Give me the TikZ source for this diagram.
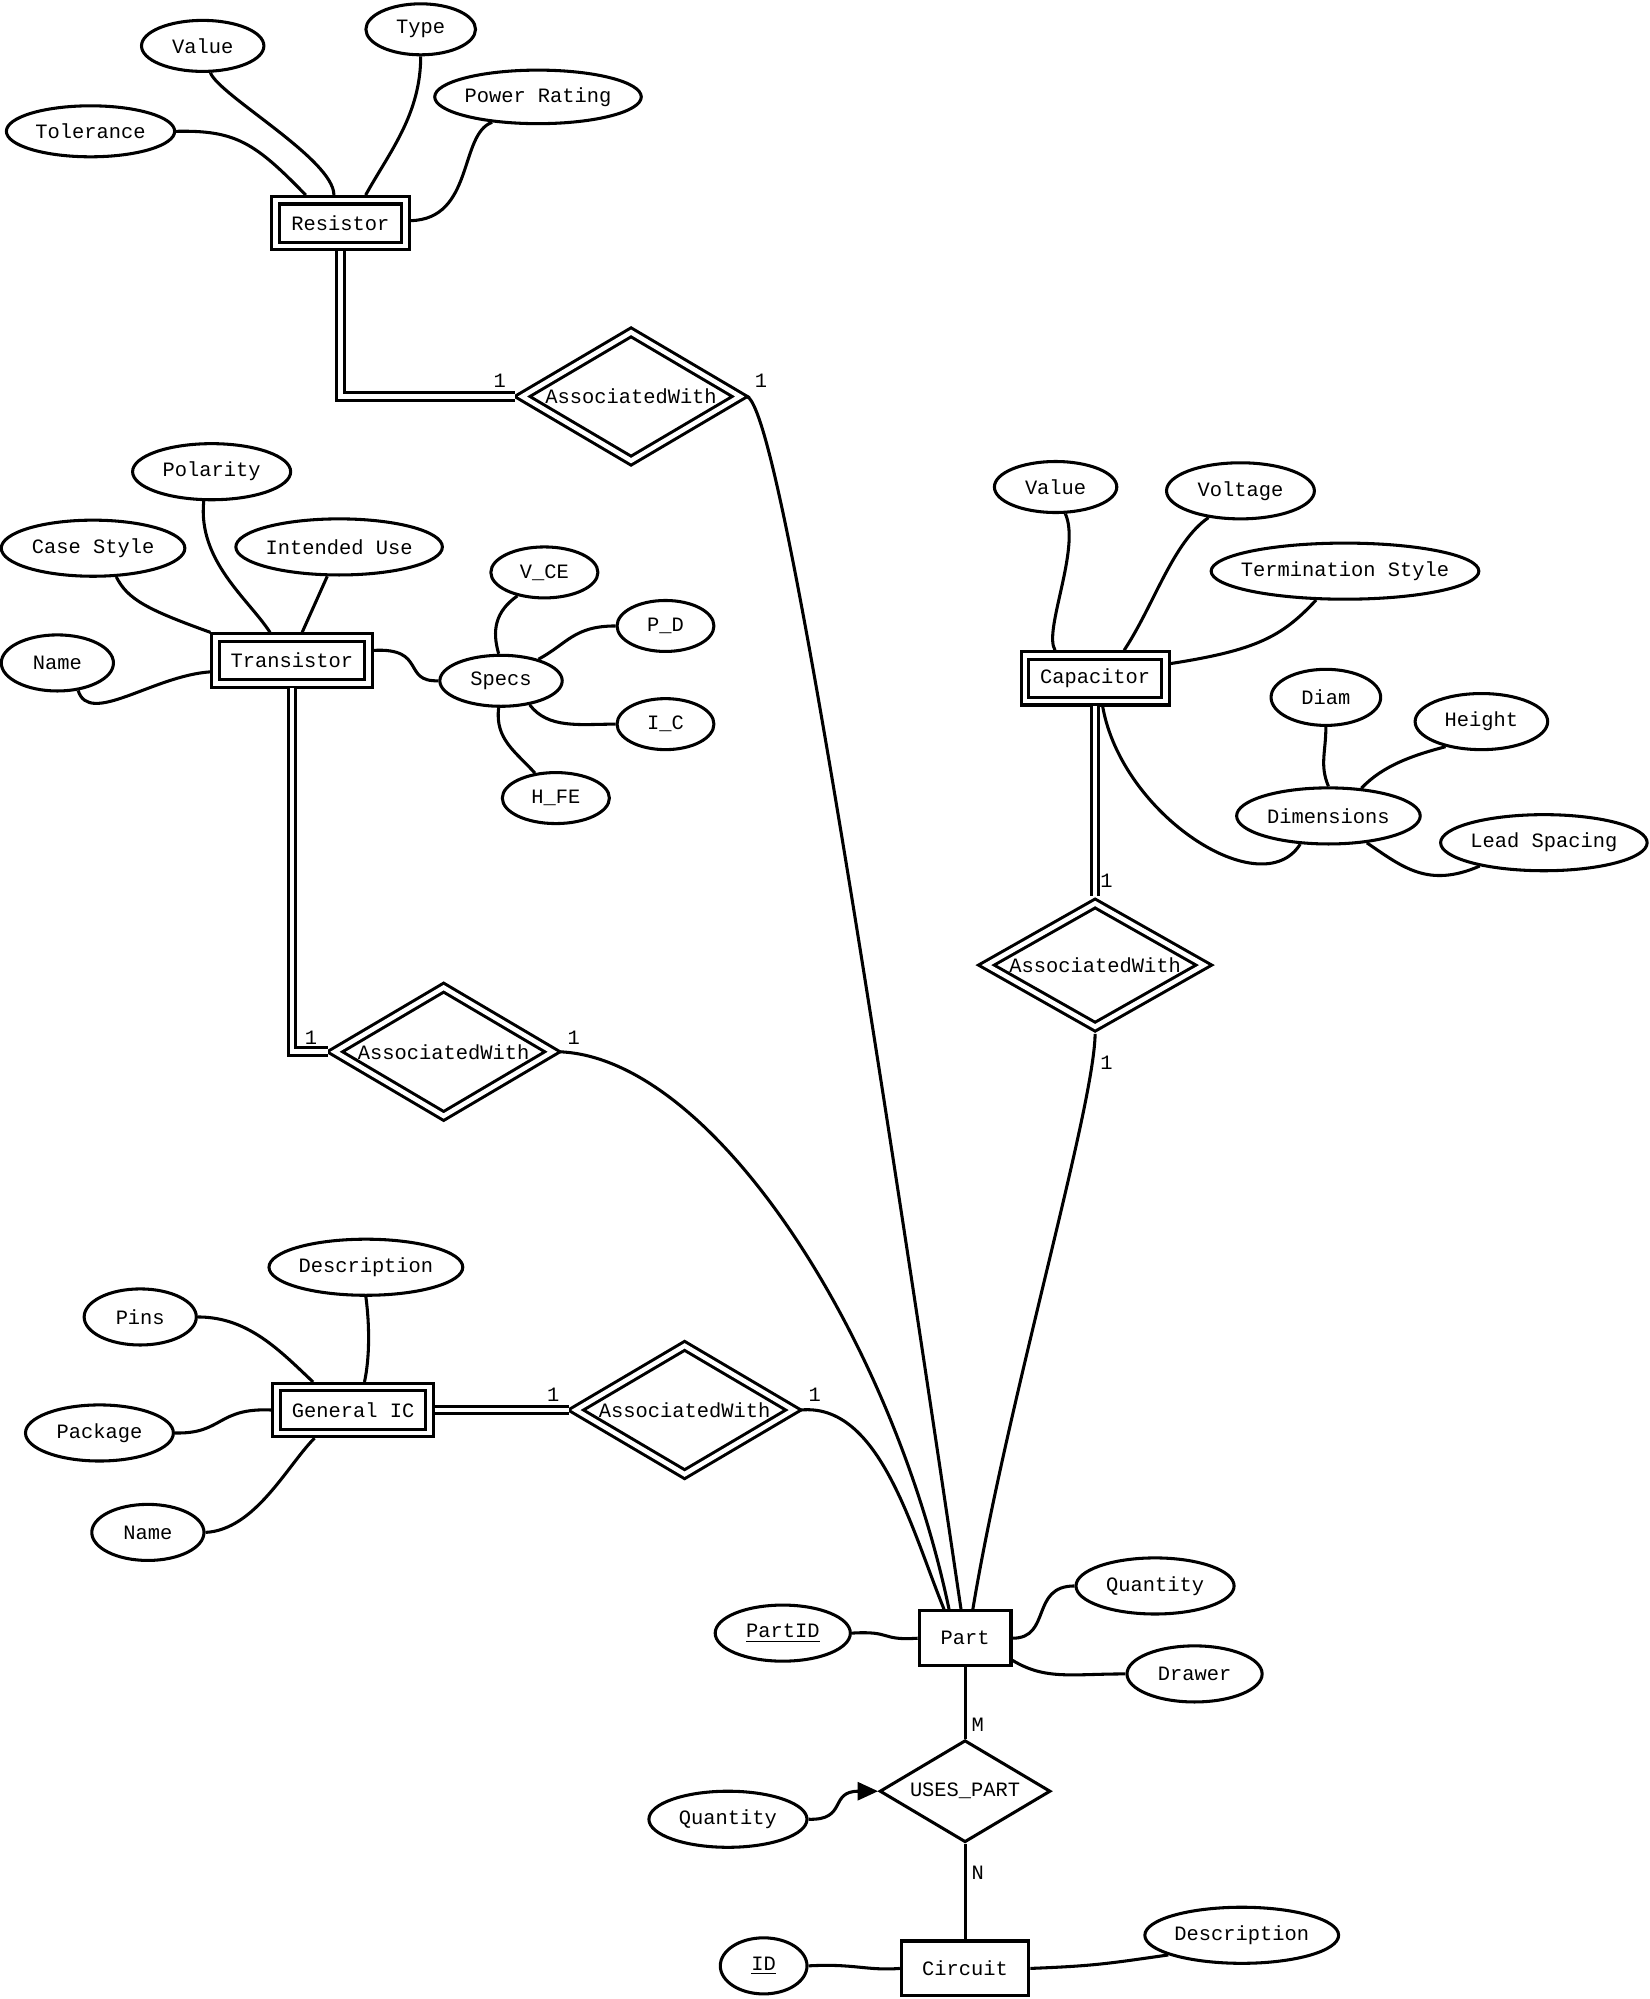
\documentclass[tikz,border=0pt]{standalone}
\usepackage{fontspec}
\newfontfamily\erfont{Liberation Mono}
\usetikzlibrary{shapes.geometric}
\usetikzlibrary{arrows.meta}

\begin{document}
\begin{tikzpicture}[x=0.5pt, y=-0.5pt, line width=1.2pt,
    every node/.style={font=\erfont\fontsize{8}{9}\selectfont},
    attr/.style={draw, ellipse, inner sep=0pt, inner xsep=-5pt, minimum height=22pt},
    entity/.style={draw, rectangle, inner sep=0pt, minimum height=21.5pt},
    weakent/.style={draw, double, double distance=1.8pt, rectangle, inner sep=0pt, minimum height=18pt, outer sep=2pt},
    rel/.style={draw, diamond, aspect=1.66, inner sep=0pt},
    weakrel/.style={draw, double, double distance=1.8pt, diamond, aspect=1.67, inner sep=0pt, minimum width=87pt, minimum height=52pt, outer sep=2pt},
    link/.style={draw},
    dlink/.style={draw, double, double distance=1.8pt},
    card/.style={inner sep=0pt}]
    \useasboundingbox (0,0) rectangle (1294,1568);

    % Resistor
    \node[weakent, minimum width=51pt] (res) at (267,175) {Resistor};
    \node[attr, minimum width=48pt, minimum height=20pt] (rval) at (159,36) {Value};
    \node[attr, minimum width=43pt, minimum height=20pt] (rtype) at (330,23) {Type};
    \node[attr, minimum width=66pt, minimum height=20pt] (rtol) at (71,103) {Tolerance};
    \node[attr, minimum width=81pt, minimum height=21pt] (rpow) at (422,76) {Power Rating};
    \node[weakrel] (awres) at (495,311) {AssociatedWith};

    \draw[link] (rtol.east) .. controls (185,102) and (200,112) .. (res.141);
    \draw[link] (rval.-74) .. controls (172,75) and (262,125) .. (res.103);
    \draw[link] (rtype.south) .. controls (330,90) and (305,120) .. (res.48);
    \draw[link] (rpow.209) .. controls (360,105) and (372,172) .. (res.2);
    \draw[dlink] (res.south) |- (awres.west);
    \node[card] (l1a) at (392,299) {1};
    \node[card] (l1b) at (597,299) {1};

    % Transistor
    \node[weakent, minimum width=60pt] (tra) at (229,518) {Transistor};
    \node[attr, minimum width=62pt] (tpol) at (166,370) {Polarity};
    \node[attr, minimum width=72pt] (tcase) at (73,430) {Case Style};
    \node[attr, minimum width=81pt] (tuse) at (266,429) {Intended Use};
    \node[attr, minimum width=44pt] (tname) at (45,520) {Name};
    \node[attr, minimum width=48pt, minimum height=20pt] (tspecs) at (393,534) {Specs};
    \node[attr, minimum width=42pt, minimum height=20pt] (tvce) at (427,449) {V\_CE};
    \node[attr, minimum width=38pt, minimum height=20pt] (tpd) at (522,491) {P\_D};
    \node[attr, minimum width=38pt, minimum height=20pt] (tic) at (522,568) {I\_C};
    \node[attr, minimum width=42pt, minimum height=20pt] (thfe) at (436,626) {H\_FE};
    \node[weakrel] (awtra) at (348,825) {AssociatedWith};

    \draw[link] (tcase.-51) .. controls (100,470) and (115,478) .. (tra.north west);
    \draw[link] (tpol.-105) .. controls (155,440) and (195,470) .. (tra.128);
    \draw[link] (tuse.-112) -- (tra.70);
    \draw[link] (tname.-53) .. controls (70,570) and (120,530) .. (tra.188);
    \draw[link] (tra.7) .. controls (335,508) and (315,535) .. (tspecs.west);
    \draw[link] (tspecs.95) .. controls (386,495) and (388,480) .. (tvce.-139);
    \draw[link] (tspecs.30) .. controls (445,505) and (450,491) .. (tpd.west);
    \draw[link] (tspecs.-40) .. controls (430,572) and (455,568) .. (tic.west);
    \draw[link] (tspecs.-95) .. controls (388,580) and (405,590) .. (thfe.130);
    \draw[dlink] (tra.south) |- (awtra.west);
    \node[card] (l2a) at (244,814) {1};
    \node[card] (l2b) at (450,814) {1};

    % Capacitor
    \node[weakent, minimum width=55pt] (cap) at (859,532) {Capacitor};
    \node[attr, minimum width=48pt, minimum height=20pt] (cval) at (828,382) {Value};
    \node[attr, minimum width=58pt] (cvolt) at (973,385) {Voltage};
    \node[attr, minimum width=105pt] (cterm) at (1055,448) {Termination Style};
    \node[attr, minimum width=43pt] (cdiam) at (1040,547) {Diam};
    \node[attr, minimum width=52pt] (cheight) at (1162,566) {Height};
    \node[attr, minimum width=72pt] (cdim) at (1042,640) {Dimensions};
    \node[attr, minimum width=81pt] (clead) at (1211,661) {Lead Spacing};
    \node[weakrel, minimum height=50pt] (awcap) at (859,757) {AssociatedWith};

    \draw[link] (cval.-70) .. controls (848,430) and (818,495) .. (cap.145);
    \draw[link] (cvolt.-140) .. controls (920,425) and (905,475) .. (cap.44);
    \draw[link] (cterm.-135) .. controls (1005,500) and (985,510) .. (cap.11);
    \draw[link] (cap.-75) .. controls (880,640) and (990,710) .. (cdim.-135);
    \draw[link] (cdim.north) .. controls (1035,600) and (1040,590) .. (cdiam.south);
    \draw[link] (cdim.40) .. controls (1085,600) and (1110,592) .. (cheight.-145);
    \draw[link] (cdim.-35) .. controls (1100,680) and (1120,697) .. (clead.-160);
    \draw[dlink] (cap.south) -- (awcap.north);
    \node[card] (l3a) at (868,691) {1};
    \node[card] (l3b) at (868,834) {1};

    % General IC
    \node[weakent, minimum width=60pt] (gic) at (277,1106) {General IC};
    \node[attr, minimum width=76pt] (gdesc) at (287,994) {Description};
    \node[attr, minimum width=44pt] (gpins) at (110,1033) {Pins};
    \node[attr, minimum width=58pt] (gpack) at (78,1124) {Package};
    \node[attr, minimum width=44pt] (gname) at (116,1202) {Name};
    \node[weakrel] (awgic) at (537,1106) {AssociatedWith};

    \draw[link] (gpins.east) .. controls (195,1033) and (220,1060) .. (gic.145);
    \draw[link] (gdesc.south) .. controls (290,1040) and (290,1065) .. (gic.68);
    \draw[link] (gpack.east) .. controls (175,1125) and (170,1104) .. (gic.west);
    \draw[link] (gname.east) .. controls (200,1200) and (225,1150) .. (gic.-144);
    \draw[dlink] (gic.east) -- (awgic.west);
    \node[card] (l4a) at (434,1094) {1};
    \node[card] (l4b) at (639,1094) {1};

    % Part and Circuit
    \node[entity, minimum width=36pt] (part) at (757,1285) {Part};
    \node[attr, minimum width=53pt] (partid) at (614,1281) {\underline{PartID}};
    \node[attr, minimum width=62pt] (pqty) at (906,1244) {Quantity};
    \node[attr, minimum width=53pt] (pdrawer) at (937,1313) {Drawer};
    \node[rel, minimum width=67pt, minimum height=40pt] (uses) at (757,1405) {USES\_PART};
    \node[attr, minimum width=62pt] (uqty) at (571,1427) {Quantity};
    \node[entity, minimum width=50pt] (circ) at (757,1544) {Circuit};
    \node[attr, minimum width=34pt] (cid) at (599,1542) {\underline{ID}};
    \node[attr, minimum width=76pt] (cdesc) at (974,1518) {Description};

    \draw[link] (awres.east) .. controls (605,320) and (650,560) .. (part.98);
    \draw[link] (awtra.east) .. controls (560,830) and (700,1050) .. (part.119);
    \draw[link] (awcap.south) .. controls (858,870) and (790,1100) .. (part.75);
    \draw[link] (awgic.east) .. controls (690,1100) and (715,1200) .. (part.126);

    \draw[link] (partid.east) .. controls (700,1279) and (690,1287) .. (part.west);
    \draw[link] (part.east) .. controls (825,1285) and (808,1244) .. (pqty.west);
    \draw[link] (part.-25) .. controls (820,1318) and (840,1313) .. (pdrawer.west);
    \draw[link] (part.south) -- (uses.north);
    \draw[link] (uses.south) -- (circ.north);
    \draw[link, -{Triangle[length=8pt, width=7pt]}] (uqty.east) .. controls (665,1428) and (650,1405) .. (uses.west);
    \draw[link] (cid.east) .. controls (670,1540) and (680,1546) .. (circ.west);
    \draw[link] (circ.east) .. controls (860,1542) and (870,1540) .. (cdesc.-165);
    \node[card] (lm) at (767,1353) {M};
    \node[card] (ln) at (767,1469) {N};
\end{tikzpicture}
\end{document}
